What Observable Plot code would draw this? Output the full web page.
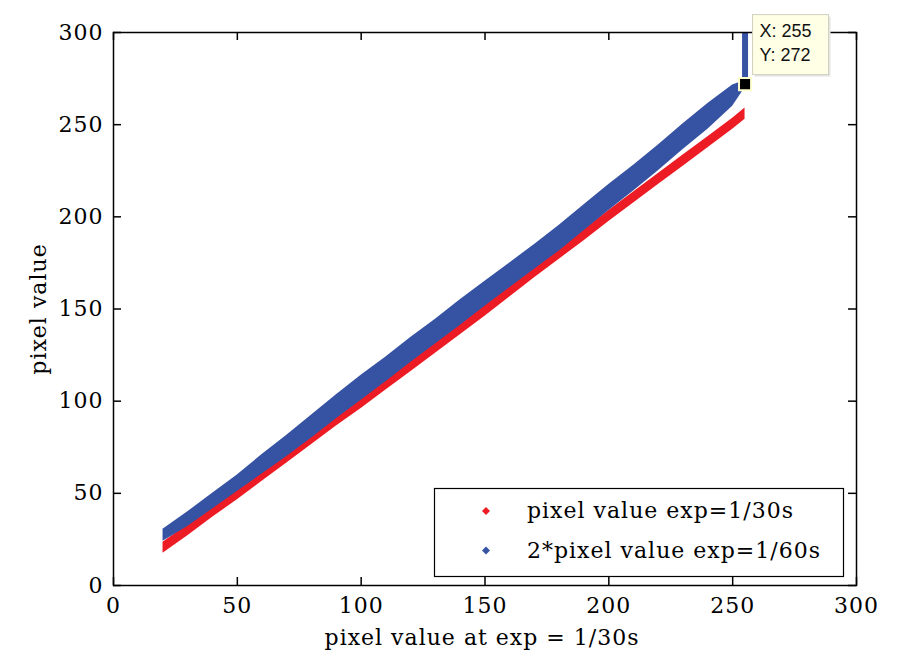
<!DOCTYPE html>
<html>
<head>
<meta charset="utf-8">
<script src="https://cdn.jsdelivr.net/npm/d3@7"></script>
<script src="https://cdn.jsdelivr.net/npm/@observablehq/plot@0.6"></script>
<style>
  html, body { margin: 0; padding: 0; background: #ffffff; }
  #chart { width: 897px; height: 662px; }
</style>
</head>
<body>
<div id="chart"></div>
<script>
// ---- data ----
const xs       = [20, 30, 40, 50, 60, 70, 80, 90, 100, 110, 120, 130, 140, 150, 160, 170, 180, 190, 200, 210, 220, 230, 240, 250, 255];
// red series: pixel value exp=1/30s (band of scattered points: low / high edge)
const redLow   = [17.5, 27, 37, 46.5, 56.5, 66.5, 76.5, 86.5, 96, 106, 116, 126, 136, 146, 156.5, 167, 177, 187, 197.5, 207.5, 217.5, 227.5, 237.5, 247.5, 253];
const redHigh  = [23.5, 33, 43, 52.5, 62.5, 72.5, 82.5, 92.5, 102, 112, 122, 132, 142, 152, 162.5, 173, 183, 193, 203.5, 213.5, 223.5, 233.5, 243.5, 253.5, 259];
// blue series: 2*pixel value exp=1/60s
const blueLow  = [24, 32, 41.5, 51, 60.5, 70, 80, 90.5, 100.5, 110.5, 121, 131, 141, 151.5, 161.5, 171.5, 181.5, 192.5, 203.5, 214, 225, 236.5, 247.5, 260, 270];
const blueHigh = [30.5, 40, 50, 60, 71, 81.5, 92.5, 103.5, 114, 124, 134.5, 144.5, 155, 165, 175, 185, 195.5, 206.5, 217.5, 228, 239, 250.5, 261.5, 271.5, 274];
// saturated blue points at x = 255
const satX = [255];
const satY = [272, 300];
// data tip
const tipX = 255, tipY = 272;
const tipLines = ["X: 255", "Y: 272"];

const seriesNames  = ["pixel value exp=1/30s", "2*pixel value exp=1/60s"];
const seriesColors = ["#ed1c24", "#3652a3"];
const xTicks = [0, 50, 100, 150, 200, 250, 300];
const yTicks = [0, 50, 100, 150, 200, 250, 300];
const xLabel = "pixel value at exp = 1/30s";
const yLabel = "pixel value";

const W = 897, H = 662;
const mL = 113, mR = 41, mT = 32, mB = 77;
const frameW = W - mL - mR, frameH = H - mT - mB;
const TICK = 8;

function legendMark(index, scales, values, dims) {
  const g = d3.create("svg:g").attr("text-anchor", "start");
  const right = dims.width - dims.marginRight - 13;
  const bottom = dims.height - dims.marginBottom - 9;
  const bw = 409, bh = 88;
  const left = right - bw, top = bottom - bh;
  g.append("rect").attr("x", left + 0.5).attr("y", top + 0.5)
    .attr("width", bw).attr("height", bh)
    .attr("fill", "white").attr("stroke", "black").attr("stroke-width", 1.2);
  seriesNames.forEach((name, i) => {
    const cy = top + 23 + i * 39.5;
    const cx = left + 52;
    g.append("path")
      .attr("d", `M${cx},${cy - 4}L${cx + 4},${cy}L${cx},${cy + 4}L${cx - 4},${cy}Z`)
      .attr("fill", seriesColors[i]);
    g.append("text").attr("x", left + 93).attr("y", cy + 7)
      .attr("text-anchor", "start")
      .attr("font-family", "DejaVu Serif").attr("font-size", 22)
      .attr("letter-spacing", "1px")
      .attr("fill", "black").text(name);
  });
  return g.node();
}

function tipMark(index, scales) {
  const g = d3.create("svg:g").attr("text-anchor", "start").attr("letter-spacing", "0px");
  const px = scales.x(tipX), py = scales.y(tipY);
  const bx = px + 8, by = py - 69, bw = 76, bh = 60;
  g.append("rect").attr("x", bx + 2).attr("y", by + 2).attr("width", bw).attr("height", bh)
    .attr("fill", "#e6e6e6");
  g.append("rect").attr("x", bx).attr("y", by).attr("width", bw).attr("height", bh)
    .attr("fill", "#ffffe6").attr("stroke", "#cfcfbf").attr("stroke-width", 1);
  tipLines.forEach((t, i) => {
    g.append("text").attr("x", bx + 7).attr("y", by + 22 + i * 24)
      .attr("text-anchor", "start")
      .attr("font-family", "Liberation Sans, Arial, sans-serif").attr("font-size", 18)
      .attr("fill", "#111").text(t);
  });
  return g.node();
}

const chart = Plot.plot({
  width: W, height: H,
  marginLeft: mL, marginRight: mR, marginTop: mT, marginBottom: mB,
  style: { fontFamily: "DejaVu Serif", fontSize: "22px", letterSpacing: "1px", color: "black", background: "white", overflow: "visible" },
  x: { domain: [0, 300], ticks: xTicks, tickSize: 0, tickPadding: 12, label: null, tickFormat: d => String(d) },
  y: { domain: [0, 300], ticks: yTicks, tickSize: 0, tickPadding: 10, label: null, tickFormat: d => String(d) },
  marks: [
    Plot.areaY(xs, { x: d => d, y1: (d, i) => redLow[i], y2: (d, i) => redHigh[i], fill: seriesColors[0] }),
    Plot.areaY(xs, { x: d => d, y1: (d, i) => blueLow[i], y2: (d, i) => blueHigh[i], fill: seriesColors[1] }),
    Plot.ruleX(satX, { x: d => d, y1: satY[0], y2: satY[1], stroke: seriesColors[1], strokeWidth: 6 }),
    Plot.frame({ stroke: "black", strokeWidth: 1.5 }),
    Plot.ruleX(xTicks, { x: d => d, insetTop: frameH - TICK, stroke: "black", strokeWidth: 1.5 }),
    Plot.ruleX(xTicks, { x: d => d, insetBottom: frameH - TICK, stroke: "black", strokeWidth: 1.5 }),
    Plot.ruleY(yTicks, { y: d => d, insetRight: frameW - TICK, stroke: "black", strokeWidth: 1.5 }),
    Plot.ruleY(yTicks, { y: d => d, insetLeft: frameW - TICK, stroke: "black", strokeWidth: 1.5 }),
    Plot.text([xLabel], { text: d => d, frameAnchor: "bottom", dy: 52, lineAnchor: "middle", textAnchor: "middle", dx: -3, fontSize: 22 }),
    Plot.text([yLabel], { text: d => d, frameAnchor: "left", dx: -75, rotate: -90, textAnchor: "middle", lineAnchor: "middle", fontSize: 22 }),
    legendMark,
    Plot.dot([[tipX, tipY]], { x: d => d[0], y: d => d[1], symbol: "square", r: 6.8, fill: "black", stroke: "#ffffcc", strokeWidth: 2 }),
    tipMark
  ]
});
document.getElementById("chart").appendChild(chart);
</script>
</body>
</html>
